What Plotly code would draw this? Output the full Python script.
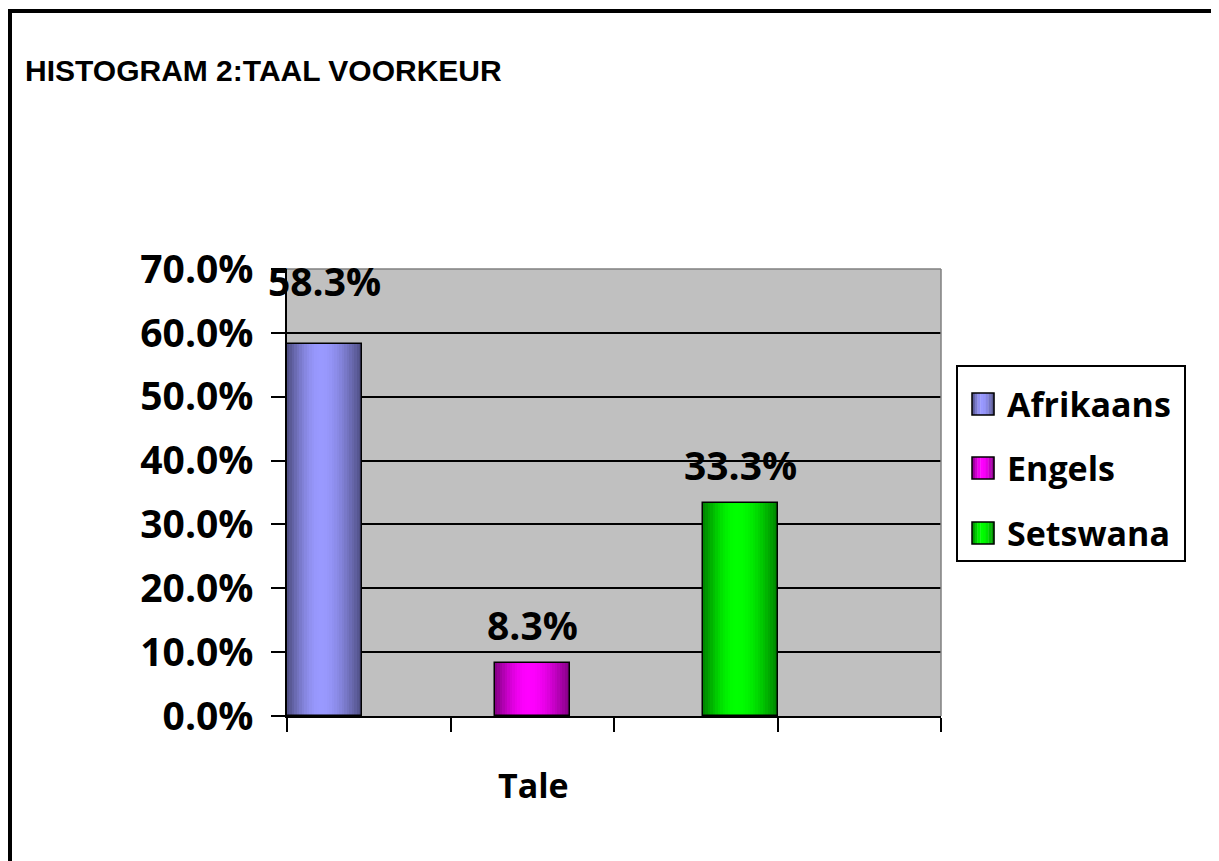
import math
import plotly.graph_objects as go

# ---- data ----
languages = ["Afrikaans", "Engels", "Setswana"]
shares = [0.583, 0.083, 0.333]
y_tick_values = [0.0, 0.1, 0.2, 0.3, 0.4, 0.5, 0.6, 0.7]
x_axis_title = "Tale"
chart_title = "HISTOGRAM 2:TAAL VOORKEUR"

# ---- style / layout ----
base_colors = [(153, 153, 255), (255, 0, 255), (0, 255, 0)]
bar_left = [0.0, 1.272, 2.544]     # bar left edges on the numeric x axis
bar_width = 0.4587
label_shift = [63, 39, 39]         # label centre offset above bar top (px)

W, H = 1219, 861
OFF = 8                            # page body margin
PL, PR, PT, PB = 287, 941, 269, 716  # plot area in screen px
ML, MT = PL - OFF, PT - OFF
MR = W - (PR - OFF)
MB = H - (PB - OFF)
PW, PH = PR - PL, PB - PT

def px_x(x):
    return (x - PL) / PW

def px_y(y):
    return (PB - y) / PH

def shade(rgb, f):
    return "rgb(%d,%d,%d)" % tuple(int(round(c * f)) for c in rgb)

def profile(t):
    peak = 0.45
    if t < peak:
        return 0.5 + 0.5 * math.sin(math.pi / 2 * t / peak)
    return 0.5 + 0.5 * math.sin(math.pi / 2 * (1 - t) / (1 - peak))

FONT = "Open Sans"
fig = go.Figure()

N = 30
for i, (lang, val) in enumerate(zip(languages, shares)):
    fig.add_trace(go.Bar(
        x=[bar_left[i] + bar_width / 2], y=[val], width=[bar_width],
        marker=dict(color=shade(base_colors[i], 1.0), line=dict(width=0)),
        name=lang, showlegend=False, hoverinfo="skip"))
    sw = bar_width / N
    xs = [bar_left[i] + (k + 0.5) * sw for k in range(N)]
    cols = [shade(base_colors[i], profile((k + 0.5) / N)) for k in range(N)]
    fig.add_trace(go.Bar(
        x=xs, y=[val] * N, width=[sw * 1.08] * N,
        marker=dict(color=cols, line=dict(width=0)),
        showlegend=False, hoverinfo="skip"))
    fig.add_trace(go.Bar(
        x=[bar_left[i] + bar_width / 2], y=[val], width=[bar_width],
        marker=dict(color="rgba(0,0,0,0)", line=dict(color="black", width=1.5)),
        name=lang, showlegend=False))
    fig.add_annotation(
        x=bar_left[i] + bar_width / 2, y=val, xref="x", yref="y",
        text="%.1f%%" % (val * 100), showarrow=False, yanchor="middle",
        yshift=label_shift[i],
        font=dict(family=FONT, size=39, color="black", weight="bold"))

shapes = []
shapes.append(dict(type="line", xref="paper", yref="paper", x0=0, x1=1, y0=1, y1=1,
                   line=dict(color="#808080", width=1.5)))
shapes.append(dict(type="line", xref="paper", yref="paper", x0=1, x1=1, y0=0, y1=1,
                   line=dict(color="#808080", width=1.5)))
# outer frame (top and left)
shapes.append(dict(type="line", xref="paper", yref="paper",
                   x0=px_x(8), x1=px_x(1240), y0=px_y(11), y1=px_y(11),
                   line=dict(color="black", width=4)))
shapes.append(dict(type="line", xref="paper", yref="paper",
                   x0=px_x(10), x1=px_x(10), y0=px_y(9), y1=px_y(880),
                   line=dict(color="black", width=4)))

# custom legend
shapes.append(dict(type="rect", xref="paper", yref="paper",
                   x0=px_x(957), x1=px_x(1185), y0=px_y(366), y1=px_y(561),
                   fillcolor="white", line=dict(color="black", width=2)))
legend_y = [404, 468, 533]
sq = 22
for i, lang in enumerate(languages):
    cy = legend_y[i]
    x0 = 972
    M = 8
    for k in range(M):
        shapes.append(dict(type="rect", xref="paper", yref="paper",
                           x0=px_x(x0 + k * sq / M), x1=px_x(x0 + (k + 1) * sq / M + 0.3),
                           y0=px_y(cy - sq / 2), y1=px_y(cy + sq / 2),
                           fillcolor=shade(base_colors[i], profile((k + 0.5) / M)),
                           line=dict(width=0)))
    shapes.append(dict(type="rect", xref="paper", yref="paper",
                       x0=px_x(x0), x1=px_x(x0 + sq),
                       y0=px_y(cy - sq / 2), y1=px_y(cy + sq / 2),
                       line=dict(color="black", width=1.5)))
    fig.add_annotation(x=px_x(1005), y=px_y(cy), xref="paper", yref="paper",
                       text=lang, showarrow=False, xanchor="left", yanchor="middle",
                       font=dict(family=FONT, size=34, color="black", weight="bold"))

fig.add_annotation(x=px_x(533), y=px_y(785), xref="paper", yref="paper",
                   text=x_axis_title, showarrow=False, xanchor="center", yanchor="middle",
                   font=dict(family=FONT, size=34, color="black", weight="bold"))

fig.update_layout(
    width=W, height=H,
    margin=dict(l=ML, r=MR, t=MT, b=MB, autoexpand=False),
    paper_bgcolor="white", plot_bgcolor="#C0C0C0",
    barmode="overlay", bargap=0,
    showlegend=False,
    shapes=shapes,
    title=dict(text=chart_title, x=(25 - OFF) / W, xanchor="left", xref="container",
               y=1 - (70 - OFF) / H, yanchor="middle", yref="container",
               font=dict(family="Liberation Sans", size=30, color="black", weight="bold")),
    xaxis=dict(range=[0, 4], tickvals=[0, 1, 2, 3, 4], showticklabels=False,
               ticks="outside", ticklen=14, tickwidth=1.5, tickcolor="black",
               showline=True, linecolor="black", linewidth=1.5,
               showgrid=False, zeroline=False, fixedrange=True),
    yaxis=dict(range=[0, 0.7], tickvals=y_tick_values, tickformat=".1%",
               ticks="outside", ticklen=14, tickwidth=1.5, tickcolor="black",
               showline=True, linecolor="black", linewidth=1.5,
               showgrid=True, gridcolor="black", gridwidth=1.5,
               zeroline=False, ticklabelstandoff=10,
               tickfont=dict(family=FONT, size=39, color="black", weight="bold")),
)

fig.write_html("out.html")
